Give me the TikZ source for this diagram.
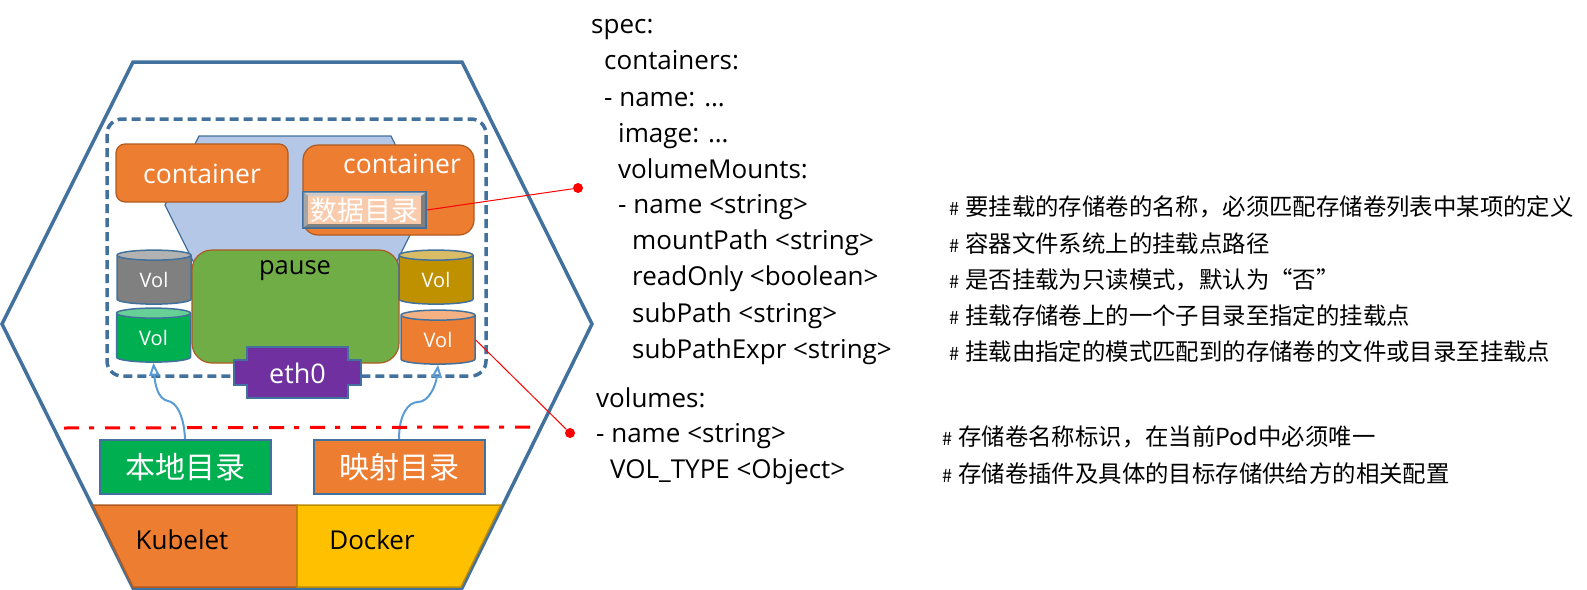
\documentclass[tikz,border=0pt]{standalone}
\usepackage{fontspec}
\setmainfont{Open Sans}
\newfontfamily\cjk{Noto Sans CJK SC}
\usetikzlibrary{arrows, shapes.geometric}
\definecolor{podblue}{HTML}{41719C}
\definecolor{podfill}{HTML}{B4C7E7}
\definecolor{orangefill}{HTML}{ED7D31}
\definecolor{orangeedge}{HTML}{AE5A21}
\definecolor{greenfill}{HTML}{00B050}
\definecolor{pausefill}{HTML}{70AD47}
\definecolor{goldfill}{HTML}{BF9000}
\definecolor{ethfill}{HTML}{7030A0}
\definecolor{yellowfill}{HTML}{FFC000}
\definecolor{yellowedge}{HTML}{BC8C00}
\definecolor{linkblue}{HTML}{5B9BD5}
\newcommand{\hashmark}{\makebox[16pt][l]{\fontsize{18}{18}\selectfont\#}}

\begin{document}
\begin{tikzpicture}
        [
          x=1pt, y=-1pt,
          txt/.style={font=\fontsize{#1}{#1}\selectfont, inner sep=0pt},
          container/.style={draw=orangeedge, line width=1.2pt, fill=orangefill, rounded corners=#1},
          vol/.style n args={2}{cylinder, shape border rotate=90, shape aspect=0.35, draw=podblue, line width=1.5pt,
            cylinder uses custom fill, cylinder body fill=#1, cylinder end fill=#2, minimum width=74pt, minimum height=54pt,
            inner sep=0pt, text=white, font=\fontsize{20}{20}\selectfont},
          dirbox/.style={draw=podblue, line width=2pt, fill=#1, minimum height=54pt, minimum width=171pt, inner sep=0pt,
            text=white, font=\cjk\fontsize{30}{30}\selectfont},
          codeline/.style={anchor=base west, inner sep=0pt, font=\fontsize{26}{26}\selectfont},
          noteline/.style={anchor=base west, inner sep=0pt, font=\cjk\fontsize{23.4}{23.4}\selectfont},
          reddot/.style={circle, fill=red, minimum size=10pt, inner sep=0pt},
          redlink/.style={draw=red, line width=1pt},
          mountlink/.style={draw=linkblue, line width=2pt, -open triangle 45}
        ]
        \useasboundingbox (0,0) rectangle (1587,589);
        % node hexagon
        \draw [podblue, line width=3.5pt, line join=miter] (133,62) -- (462,62) -- (592,324) -- (462,588) -- (133,588) -- (2,324) -- cycle;
        % pod box
        \draw [podblue, line width=3.5pt, dash pattern=on 9pt off 5pt, rounded corners=15pt] (107,119) rectangle (486,376);
        \draw [podblue, line width=1.2pt, fill=podfill] (199,136) -- (391,136) -- (425,205) -- (390,275) -- (200,275) -- (165,205) -- cycle;
        % containers
        \node [container=9pt, minimum width=172pt, minimum height=58pt] (left) at (202,173) {};
        \node [txt=26.5, text=white] (lefttext) at (202,174) {container};
        \node [container=15pt, minimum width=171pt, minimum height=90pt] (right) at (388.5,190) {};
        \node [txt=26.5, text=white] (righttext) at (402,164) {container};
        % data directory
        \node [draw=podblue, line width=1.5pt, fill=gray, minimum width=123pt, minimum height=36pt, inner sep=0pt] (dir) at (364.5,210) {};
        \fill [gray!40] (303.7,192.7) -- (425.3,192.7) -- (421,196) -- (308,196) -- cycle;
        \fill [gray!70] (303.7,192.7) -- (308,196) -- (308,224) -- (303.7,227.3) -- cycle;
        \fill [orangefill!40!white] (308,196) rectangle (421,224);
        \node [font=\cjk\fontsize{27}{27}\selectfont, inner sep=0pt, text=white] (dirtext) at (364.5,210) {数据目录};
        % pause
        \node [container=20pt, fill=pausefill, minimum width=207pt, minimum height=113pt] (pause) at (295.5,306.5) {};
        \node [txt=25.5] (pausetext) at (295,271) {pause};
        % volumes
        \node [vol={gray}{gray!60}] (volgray) at (154,280) {Vol};
        \node [vol={goldfill}{goldfill!60!white}] (volgold) at (436,280) {Vol};
        \node [vol={greenfill}{greenfill!60!white}] (volgreen) at (153.5,338) {Vol};
        \node [vol={orangefill}{orangefill!60!white}] (volmap) at (438,340) {Vol};
        % eth0
        \draw [podblue, line width=1.5pt, fill=ethfill] (234,360) -- (247,360) -- (247,347) -- (348,347) -- (348,360) -- (361,360)
          -- (361,385) -- (348,385) -- (348,398) -- (247,398) -- (247,385) -- (234,385) -- cycle;
        \node [txt=27, text=white] (eth) at (297.5,373) {eth0};
        % local and mapped directories
        \node [dirbox=greenfill] (localdir) at (185,467) {本地目录};
        \node [dirbox=orangefill] (mapdir) at (399,467) {映射目录};
        \draw [mountlink] (localdir.north) .. controls (184,415) and (176,402) .. (168,401) .. controls (158,399) and (155,385) .. (volgreen.south);
        \draw [mountlink] (mapdir.north) .. controls (399,415) and (408,402) .. (418,402) .. controls (429,402) and (436,385) .. (volmap.south);
        \draw [red, line width=3pt, dash pattern=on 15pt off 10pt on 5pt off 11pt] (64,428) -- (531,427);
        % kubelet and docker
        \draw [orangeedge, line width=1.5pt, fill=orangefill] (93,505) -- (297,505) -- (297,587) -- (133,587) -- cycle;
        \draw [yellowedge, line width=1.5pt, fill=yellowfill] (297,505) -- (501,505) -- (461,587) -- (297,587) -- cycle;
        \node [txt=26] (kubelet) at (182,540) {Kubelet};
        \node [txt=26] (docker) at (372,540) {Docker};
        % red links
        \node [reddot] (dotmount) at (578,188) {};
        \node [reddot] (dotvol) at (570,433) {};
        \draw [redlink] (dir.east) -- (dotmount);
        \draw [redlink] (volmap.east) -- (dotvol);
        % spec text
        \foreach \n/\x/\y/\t in {a/591/33/spec:, b/604/69/containers:, c/604/106/- name: …, d/618/142/image: …,
            e/618/178/volumeMounts:, f/618/213/- name <string>, g/632/249/mountPath <string>, h/632/285/readOnly <boolean>,
            i/632/322/subPath <string>, j/632/358/subPathExpr <string>, k/596/407/volumes:, l/596/442/- name <string>,
            m/610/478/VOL\_TYPE <Object>} {
            \node [codeline] (code\n) at (\x,\y) {\t};
        }
        % comments
        \node [noteline] (notef) at (949,215) {\hashmark 要挂载的存储卷的名称，必须匹配存储卷列表中某项的定义};
        \node [noteline] (noteg) at (949,252) {\hashmark 容器文件系统上的挂载点路径};
        \node [noteline] (noteh) at (949,288) {\hashmark 是否挂载为只读模式，默认为“否”};
        \node [noteline] (notei) at (949,324) {\hashmark 挂载存储卷上的一个子目录至指定的挂载点};
        \node [noteline] (notej) at (949,360) {\hashmark 挂载由指定的模式匹配到的存储卷的文件或目录至挂载点};
        \node [noteline] (notel) at (942,445) {\hashmark 存储卷名称标识，在当前Pod中必须唯一};
        \node [noteline] (notem) at (942,482) {\hashmark 存储卷插件及具体的目标存储供给方的相关配置};
\end{tikzpicture}
\end{document}
